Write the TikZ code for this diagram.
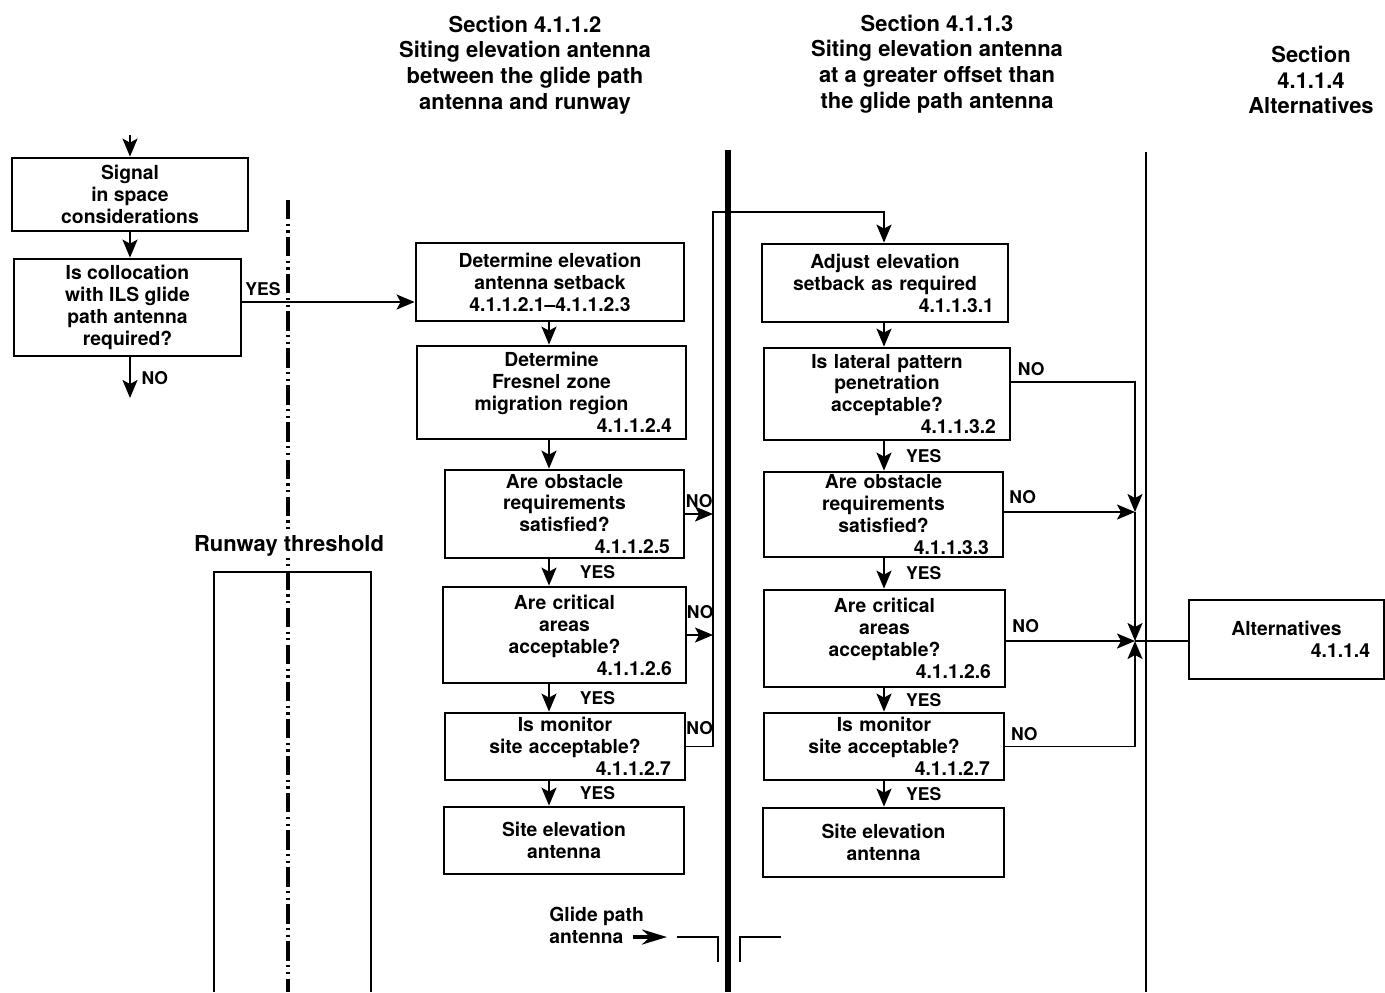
\documentclass[tikz,border=0pt]{standalone}
\usepackage{fontspec}
\setmainfont{TeX Gyre Heros}
\usetikzlibrary{arrows.meta}

\newcommand{\refno}[1]{\hspace*{\fill}#1}

\begin{document}
\begin{tikzpicture}[
    x=0.02cm, y=-0.02cm,
    box/.style={draw, line width=1.6pt, align=center, inner xsep=0pt, inner ysep=0.5pt, font=\fontsize{11}{12.5}\selectfont\bfseries},
    heading/.style={align=center, font=\fontsize{12.5}{14.7}\selectfont\bfseries},
    lbl/.style={inner sep=0pt, font=\fontsize{10}{12}\selectfont\bfseries},
    arrow/.style={-{Stealth[length=3.6mm, width=3mm, inset=0.8mm]}, line width=1.1pt},
    conn/.style={line width=1.1pt},
    pointer/.style={-{Stealth[length=5mm, width=3mm, inset=1.6mm]}, line width=2pt}
]
    \useasboundingbox (0,0) rectangle (1385,992);

    % section headings
    \node[heading] (hdA) at (525,65) {Section 4.1.1.2\\Siting elevation antenna\\between the glide path\\antenna and runway};
    \node[heading] (hdB) at (937,64) {Section 4.1.1.3\\Siting elevation antenna\\at a greater offset than\\the glide path antenna};
    \node[heading] (hdC) at (1311,80) {Section\\4.1.1.4\\Alternatives};

    % column dividers
    \draw[line width=3pt] (728,150) -- (728,992);
    \draw[line width=1.1pt] (1146,152) -- (1146,992);

    % runway and centre line
    \draw[line width=1.2pt] (214,992) -- (214,572) -- (371,572) -- (371,992);
    \draw[line width=2pt, dash pattern=on 11pt off 2.5pt on 1.3pt off 2.5pt on 1.3pt off 2.5pt] (288,200) -- (288,992);
    \node[heading, fill=white, inner sep=1pt] (thr) at (289,546) {Runway threshold};

    % glide path antenna
    \node[box, draw=none, align=left, anchor=west, inner sep=0pt] (gp) at (548,925) {Glide path\\antenna};
    \draw[line width=0.9pt] (677,937) -- (718,937) -- (718,962);
    \draw[line width=0.9pt] (740,962) -- (740,937) -- (781,937);

    % left column
    \node[box, minimum width=4.72cm, minimum height=1.46cm] (sig) at (130,194.5) {Signal\\in space\\considerations};
    \node[box, minimum width=4.54cm, minimum height=1.94cm] (coll) at (127.5,307.5) {Is collocation\\with ILS glide\\path antenna\\required?};

    % middle column
    \node[box, minimum width=5.36cm, minimum height=1.56cm] (det) at (550,282) {Determine elevation\\antenna setback\\4.1.1.2.1--4.1.1.2.3};
    \node[box, minimum width=5.38cm, minimum height=1.86cm, text width=4.82cm] (fres) at (551.5,392.5) {Determine\\Fresnel zone\\migration region\\\refno{4.1.1.2.4}};
    \node[box, minimum width=4.78cm, minimum height=1.76cm, text width=4.22cm] (obsA) at (564.5,514) {Are obstacle\\requirements\\satisfied?\\\refno{4.1.1.2.5}};
    \node[box, minimum width=4.86cm, minimum height=1.92cm, text width=4.30cm] (critA) at (564.5,635) {Are critical\\areas\\acceptable?\\\refno{4.1.1.2.6}};
    \node[box, minimum width=4.80cm, minimum height=1.34cm, text width=4.24cm] (monA) at (565,746.5) {Is monitor\\site acceptable?\\\refno{4.1.1.2.7}};
    \node[box, minimum width=4.80cm, minimum height=1.34cm] (siteA) at (564,840.5) {Site elevation\\antenna};

    % right column
    \node[box, minimum width=4.92cm, minimum height=1.56cm, text width=4.36cm] (adj) at (885,283) {Adjust elevation\\setback as required\\\refno{4.1.1.3.1}};
    \node[box, minimum width=4.92cm, minimum height=1.84cm, text width=4.36cm] (lat) at (887,394) {Is lateral pattern\\penetration\\acceptable?\\\refno{4.1.1.3.2}};
    \node[box, minimum width=4.78cm, minimum height=1.70cm, text width=4.22cm] (obsB) at (883.5,514.5) {Are obstacle\\requirements\\satisfied?\\\refno{4.1.1.3.3}};
    \node[box, minimum width=4.82cm, minimum height=1.94cm, text width=4.26cm] (critB) at (884.5,638.5) {Are critical\\areas\\acceptable?\\\refno{4.1.1.2.6}};
    \node[box, minimum width=4.80cm, minimum height=1.34cm, text width=4.24cm] (monB) at (884,746.5) {Is monitor\\site acceptable?\\\refno{4.1.1.2.7}};
    \node[box, minimum width=4.82cm, minimum height=1.38cm] (siteB) at (883.5,842.5) {Site elevation\\antenna};

    % alternatives
    \node[box, minimum width=3.90cm, minimum height=1.58cm, text width=3.34cm] (alt) at (1286.5,639.5) {Alternatives\\\refno{4.1.1.4}};

    % helper coordinates
    \coordinate (entry) at (130,135);
    \coordinate (colL) at (130,0);
    \coordinate (colA) at (549,0);
    \coordinate (colB) at (884,0);
    \coordinate (busA) at (713,0);
    \coordinate (yesrow) at (0,302);
    \coordinate (loop) at (713,212);
    \coordinate (noL) at (130,398);
    \coordinate (j1) at (1135,512);
    \coordinate (j2) at (1135,641);
    \coordinate (gptail) at (633,937);
    \coordinate (gphead) at (667,937);

    % left flow
    \draw[arrow] (entry) -- (sig.north -| entry);
    \draw[arrow] (sig.south -| colL) -- (coll.north -| colL);
    \draw[arrow] (coll.south -| colL) -- node[lbl, right=6pt]{NO} (noL);
    \draw[arrow] (coll.east |- yesrow) -- node[lbl, pos=0.12, above=3pt]{YES} (det.west |- yesrow);

    % middle flow
    \draw[arrow] (det.south -| colA) -- (fres.north -| colA);
    \draw[arrow] (fres.south -| colA) -- (obsA.north -| colA);
    \draw[arrow] (obsA.south -| colA) -- node[lbl, right=17pt]{YES} (critA.north -| colA);
    \draw[arrow] (critA.south -| colA) -- node[lbl, right=17pt]{YES} (monA.north -| colA);
    \draw[arrow] (monA.south -| colA) -- node[lbl, right=17pt]{YES} (siteA.north -| colA);
    \draw[arrow] (obsA.east) -- node[lbl, above=3pt]{NO} (obsA.east -| busA);
    \draw[arrow] (critA.east) -- node[lbl, above=9pt]{NO} (critA.east -| busA);
    \draw[arrow] (monA.east) -- node[lbl, above=6pt]{NO} (monA.east -| busA) -- (loop) -- (loop -| colB) -- (adj.north -| colB);

    % right flow
    \draw[arrow] (adj.south -| colB) -- (lat.north -| colB);
    \draw[arrow] (lat.south -| colB) -- node[lbl, right=12pt]{YES} (obsB.north -| colB);
    \draw[arrow] (obsB.south -| colB) -- node[lbl, right=12pt]{YES} (critB.north -| colB);
    \draw[arrow] (critB.south -| colB) -- node[lbl, right=12pt]{YES} (monB.north -| colB);
    \draw[arrow] (monB.south -| colB) -- node[lbl, right=12pt]{YES} (siteB.north -| colB);
    \draw[arrow] ([yshift=0.24cm]lat.east) -| node[lbl, pos=0.08, above=3pt]{NO} (j1);
    \draw[arrow] (obsB.east |- j1) -- node[lbl, pos=0.14, above=4pt]{NO} (j1);
    \draw[arrow] (j1) -- (j2);
    \draw[arrow] (critB.east |- j2) -- node[lbl, pos=0.15, above=4pt]{NO} (j2);
    \draw[arrow] (monB.east) -| node[lbl, pos=0.073, above=3pt]{NO} (j2);
    \draw[conn] (j2) -- (alt.west |- j2);

    % antenna pointer
    \draw[pointer] (gptail) -- (gphead);
\end{tikzpicture}
\end{document}
